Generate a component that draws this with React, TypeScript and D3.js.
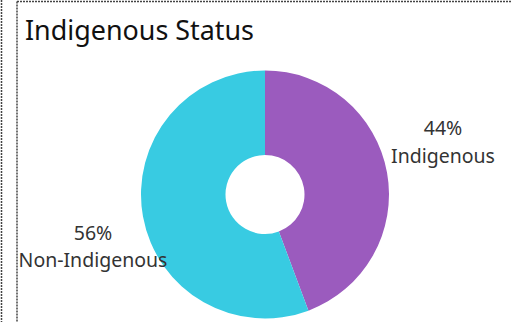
import React from "react";
import * as d3 from "d3";

const categories = ["Indigenous", "Non-Indigenous"];
const values = [44.3, 55.7];
const labels = ["44%", "56%"];
const colors = ["#9B5BBE", "#38CBE2"];

export default function App() {
  const W = 512, H = 322;
  const cx = 265, cy = 194.5, rOuter = 124, rInner = 39.5;
  const pie = d3.pie<number>().sort(null).value((d) => d);
  const arcs = pie(values);
  const arcGen = d3.arc<d3.PieArcDatum<number>>().innerRadius(rInner).outerRadius(rOuter);
  const labelPos = [
    { x: 443, y1: 135, y2: 163 },
    { x: 93, y1: 240, y2: 267 },
  ];
  return (
    <svg width={W} height={H} style={{ position: "fixed", left: 0, top: 0, background: "#fff" }}>
      <line x1={1.5} y1={0} x2={1.5} y2={H} stroke="#444" strokeWidth={1.5} strokeDasharray="2 1" />
      <line x1={17} y1={1.5} x2={17} y2={H} stroke="#444" strokeWidth={1.5} strokeDasharray="2 1" />
      <line x1={17} y1={1.5} x2={W} y2={1.5} stroke="#444" strokeWidth={1.5} strokeDasharray="2 1" />
      <text x={25} y={39.5} fontFamily="'Noto Sans', 'Open Sans', sans-serif" fontSize={26.5} fill="#111" textLength={229} lengthAdjust="spacingAndGlyphs">
        Indigenous Status
      </text>
      <g transform={`translate(${cx},${cy})`}>
        {arcs.map((a, i) => (
          <path key={categories[i]} d={arcGen(a) || ""} fill={colors[i]} />
        ))}
      </g>
      {categories.map((c, i) => (
        <g key={c} fontFamily="'Noto Sans', 'Open Sans', sans-serif" fontSize={19.5} fill="#333" textAnchor="middle">
          <text x={labelPos[i].x} y={labelPos[i].y1}>{labels[i]}</text>
          <text x={labelPos[i].x} y={labelPos[i].y2}>{c}</text>
        </g>
      ))}
    </svg>
  );
}
